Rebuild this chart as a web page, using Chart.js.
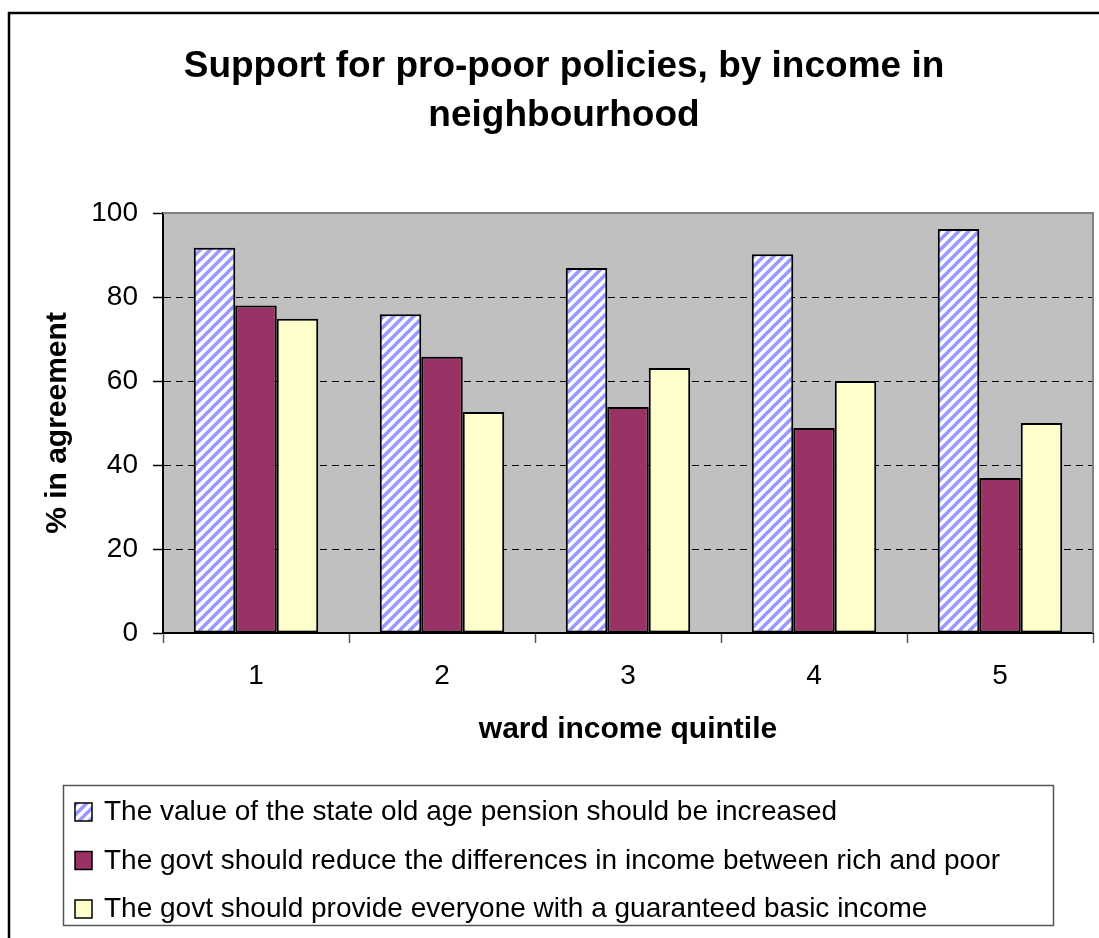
<!DOCTYPE html>
<html>
<head>
<meta charset="utf-8">
<script src="https://cdn.jsdelivr.net/npm/chart.js@4/dist/chart.umd.min.js"></script>
<style>
  html, body { margin: 0; padding: 0; background: #fff; }
</style>
</head>
<body>
<canvas id="chart-canvas" width="1099" height="938"></canvas>
<script>
const FONT = "'Liberation Sans', Arial, sans-serif";

const titleLines = ["Support for pro-poor policies, by income in", "neighbourhood"];
const quintiles = ["1", "2", "3", "4", "5"];
const seriesLabels = [
  "The value of the state old age pension should be increased",
  "The govt should reduce the differences in income between rich and poor",
  "The govt should provide everyone with a guaranteed basic income",
];
const pensionValues = [91.7, 75.9, 86.9, 90.2, 96.2];
const reduceGapValues = [78, 65.8, 53.8, 48.8, 36.9];
const basicIncomeValues = [74.8, 52.6, 63.1, 60, 50];
const yMin = 0;
const yMax = 100;
const yStep = 20;

const canvas = document.getElementById("chart-canvas");
const mainCtx = canvas.getContext("2d");

// blue / white upward diagonal hatch like the Excel fill
function makeHatch() {
  const s = 10;
  const c = document.createElement("canvas");
  c.width = s;
  c.height = s;
  const g = c.getContext("2d");
  g.fillStyle = "#ffffff";
  g.fillRect(0, 0, s, s);
  g.strokeStyle = "#9999ff";
  g.lineWidth = 3.5;
  g.beginPath();
  g.moveTo(-3, s + 3); g.lineTo(s + 3, -3);
  g.moveTo(-3, 3); g.lineTo(3, -3);
  g.moveTo(s - 3, s + 3); g.lineTo(s + 3, s - 3);
  g.stroke();
  return mainCtx.createPattern(c, "repeat");
}
const hatch = makeHatch();

const frameAndTitle = {
  id: "frameAndTitle",
  beforeDraw(chart) {
    const ctx = chart.ctx;
    const a = chart.chartArea;
    ctx.save();
    ctx.fillStyle = "#ffffff";
    ctx.fillRect(0, 0, chart.width, chart.height);
    // outer chart frame (cropped at right and bottom)
    ctx.strokeStyle = "#000";
    ctx.lineWidth = 2.5;
    ctx.beginPath();
    ctx.moveTo(9, chart.height + 2);
    ctx.lineTo(9, 13);
    ctx.lineTo(chart.width + 2, 13);
    ctx.stroke();
    // plot area
    ctx.fillStyle = "#c0c0c0";
    ctx.fillRect(a.left, a.top, a.right - a.left, a.bottom - a.top);
    // title
    ctx.fillStyle = "#000";
    ctx.font = "bold 37px " + FONT;
    ctx.textAlign = "center";
    ctx.textBaseline = "alphabetic";
    titleLines.forEach((t, i) => ctx.fillText(t, 564, 77 + i * 49));
    ctx.restore();
  },
  beforeDatasetsDraw(chart) {
    const ctx = chart.ctx;
    const a = chart.chartArea;
    ctx.save();
    ctx.strokeStyle = "#808080";
    ctx.lineWidth = 2;
    ctx.beginPath();
    ctx.moveTo(a.left, a.top);
    ctx.lineTo(a.right, a.top);
    ctx.lineTo(a.right, a.bottom);
    ctx.stroke();
    ctx.restore();
  },
};

const legendBox = {
  id: "legendBox",
  afterDraw(chart) {
    const ctx = chart.ctx;
    ctx.save();
    ctx.strokeStyle = "#555";
    ctx.lineWidth = 1.5;
    ctx.strokeRect(63.5, 785.5, 990, 140);
    ctx.font = "28px " + FONT;
    ctx.textAlign = "left";
    ctx.textBaseline = "alphabetic";
    chart.data.datasets.forEach((ds, i) => {
      const y = 820 + i * 48.5;
      ctx.fillStyle = ds.backgroundColor;
      ctx.fillRect(75, y - 17, 17, 18);
      ctx.strokeStyle = "#000";
      ctx.lineWidth = 1.5;
      ctx.strokeRect(75, y - 17, 17, 18);
      ctx.fillStyle = "#000";
      ctx.fillText(ds.label, 104, y);
    });
    ctx.restore();
  },
};

const data = {
  labels: quintiles,
  datasets: [
    { label: seriesLabels[0], data: pensionValues, backgroundColor: hatch },
    { label: seriesLabels[1], data: reduceGapValues, backgroundColor: "#993366" },
    { label: seriesLabels[2], data: basicIncomeValues, backgroundColor: "#ffffcc" },
  ].map((d) => Object.assign(d, { borderColor: "#000", borderWidth: 2, borderSkipped: false })),
};

const config = {
  type: "bar",
  data: data,
  options: {
    responsive: false,
    animation: false,
    devicePixelRatio: 1,
    layout: { padding: { top: 213, right: 6, bottom: 0, left: 0 } },
    datasets: { bar: { categoryPercentage: 0.669, barPercentage: 1 } },
    plugins: {
      legend: { display: false },
      title: { display: false },
      tooltip: { enabled: false },
    },
    scales: {
      x: {
        afterFit: (scale) => { scale.height = 305; },
        grid: {
          drawOnChartArea: false,
          drawTicks: true,
          tickLength: 10,
          tickColor: "#555",
          tickWidth: 1.5,
        },
        border: { color: "#000", width: 2 },
        ticks: { color: "#000", font: { family: FONT, size: 28 }, padding: 16 },
        title: {
          display: true,
          text: "ward income quintile",
          color: "#000",
          font: { family: FONT, size: 30, weight: "bold" },
          padding: { top: 0, bottom: 190 },
        },
      },
      y: {
        min: yMin,
        max: yMax,
        afterFit: (scale) => { scale.width = 163; },
        grid: {
          color: (c) => (c.tick && (c.tick.value === yMax || c.tick.value === yMin) ? "rgba(0,0,0,0)" : "#000"),
          lineWidth: 1,
          tickLength: 10,
          tickColor: "#000",
          tickWidth: 1.5,
          tickBorderDash: [],
        },
        border: { color: "#000", width: 2, dash: [7, 5] },
        ticks: { stepSize: yStep, color: "#000", font: { family: FONT, size: 28 }, padding: 15 },
        title: {
          display: true,
          text: "% in agreement",
          color: "#000",
          font: { family: FONT, size: 30, weight: "bold" },
          padding: { top: 40, bottom: 0 },
        },
      },
    },
  },
  plugins: [frameAndTitle, legendBox],
};

const myChart = new Chart(canvas, config);
</script>
</body>
</html>
